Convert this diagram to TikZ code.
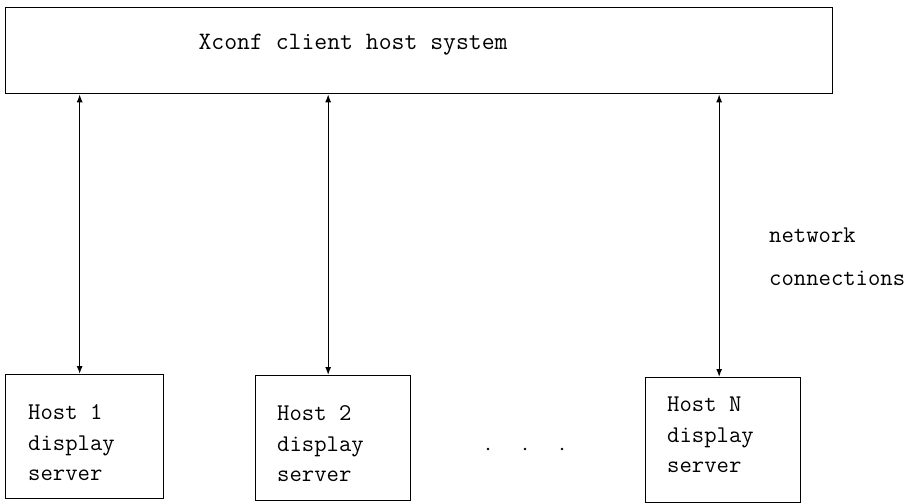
\documentclass[tikz,border=0pt]{standalone}
\usetikzlibrary{arrows.meta}
\begin{document}
\begin{tikzpicture}[x=1pt,y=-1pt,
  box/.style={draw, line width=1.3pt, inner sep=0pt, anchor=north west},
  txt/.style={inner sep=0pt, align=left, font=\ttfamily\fontsize{24}{30.5}\selectfont},
  conn/.style={line width=1.2pt, {Latex[length=8pt,width=6pt]}-{Latex[length=8pt,width=6pt]}}]
\useasboundingbox (0,0) rectangle (912,503);
\node[box, minimum width=827pt, minimum height=86pt] (top) at (5,7) {};
\node[txt, anchor=center, font=\ttfamily\fontsize{25}{30}\selectfont] (toptxt) at (353,45) {Xconf client host system};
\node[box, minimum width=158pt, minimum height=124pt] (h1) at (5,374) {};
\node[box, minimum width=155pt, minimum height=125pt] (h2) at (255,375) {};
\node[box, minimum width=155pt, minimum height=125pt] (hn) at (645,377) {};
\node[txt, anchor=west] (t1) at (28,443) {Host 1\\display\\server};
\node[txt, anchor=west] (t2) at (277,444) {Host 2\\display\\server};
\node[txt, anchor=west] (tn) at (667,435) {Host N\\display\\server};
\node[txt, anchor=west, font=\ttfamily\fontsize{24}{43}\selectfont] (net) at (769,257) {network\\connections};
\draw[conn] ([xshift=-5pt]h1.north |- top.south) -- ([xshift=-5pt]h1.north);
\draw[conn] ([xshift=-5pt]h2.north |- top.south) -- ([xshift=-5pt]h2.north);
\draw[conn] ([xshift=-4pt]hn.north |- top.south) -- ([xshift=-4pt]hn.north);
\foreach \x/\n in {488/d1,525/d2,562/d3}{
  \fill (\x,449) circle (1.4pt) coordinate (\n);
}
\end{tikzpicture}
\end{document}
